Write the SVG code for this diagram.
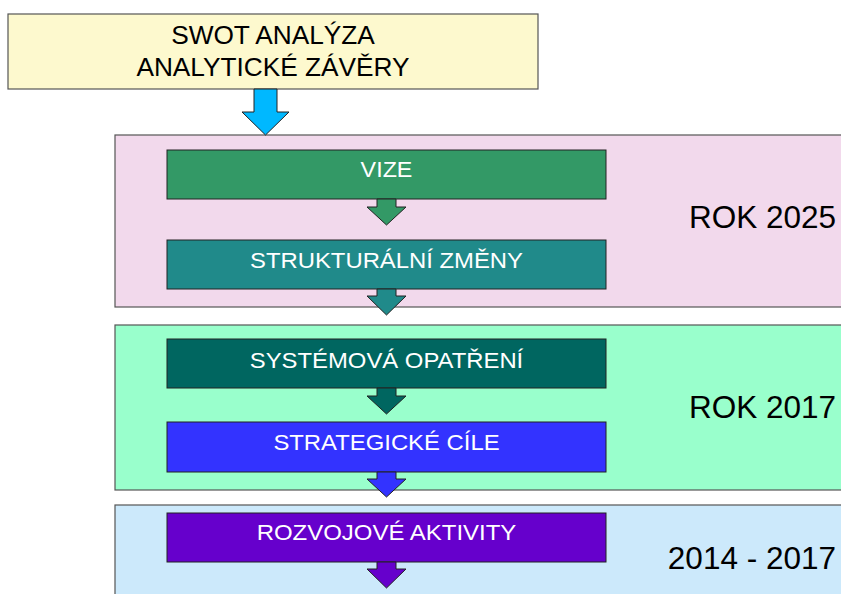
<svg xmlns="http://www.w3.org/2000/svg" width="841" height="594" viewBox="0 0 841 594">
<style>
.frame{stroke:#555;stroke-width:1.2}
.box{stroke:#222;stroke-width:1}
.arr{stroke:#222;stroke-width:1}
.t{font-family:"Liberation Sans",Arial,sans-serif;font-size:22px;fill:#fff;text-anchor:middle}
.big{font-family:"Liberation Sans",Arial,sans-serif;font-size:31.5px;fill:#000;text-anchor:end}
.top{font-family:"Liberation Sans",Arial,sans-serif;font-size:25px;fill:#000;text-anchor:middle}
</style>
<rect width="841" height="594" fill="#fff"/>
<g id="period2025">
<rect class="frame" x="115" y="135" width="730" height="172" fill="#F2D9EC"/>
<text class="big" x="836" y="228">ROK 2025</text>
</g>
<g id="period2017">
<rect class="frame" x="115" y="325" width="730" height="165" fill="#99FFCC"/>
<text class="big" x="836" y="418">ROK 2017</text>
</g>
<g id="period2014">
<rect class="frame" x="115" y="505" width="730" height="100" fill="#CCE9FB"/>
<text class="big" x="836" y="569">2014 - 2017</text>
</g>
<g id="swot">
<rect class="frame" x="8" y="14" width="530" height="75" fill="#FDF9CE"/>
<text class="top" transform="translate(273,44) scale(1.05,1)">SWOT ANALÝZA</text>
<text class="top" transform="translate(273,76) scale(1.05,1)">ANALYTICKÉ ZÁVĚRY</text>
</g>
<g id="vize">
<rect class="box" x="167" y="150" width="439" height="49" fill="#339966"/>
<text class="t" transform="translate(386.5,177) scale(1.06,1)">VIZE</text>
</g>
<g id="strukturalni">
<rect class="box" x="167" y="240" width="439" height="49" fill="#208A8A"/>
<text class="t" transform="translate(386.5,268) scale(1.085,1)">STRUKTURÁLNÍ ZMĚNY</text>
</g>
<g id="systemova">
<rect class="box" x="167" y="339" width="439" height="49" fill="#006660"/>
<text class="t" transform="translate(386.5,368) scale(1.085,1)">SYSTÉMOVÁ OPATŘENÍ</text>
</g>
<g id="strategicke">
<rect class="box" x="167" y="422" width="439" height="50" fill="#3333FF"/>
<text class="t" transform="translate(386.5,450) scale(1.085,1)">STRATEGICKÉ CÍLE</text>
</g>
<g id="rozvojove">
<rect class="box" x="167" y="513" width="439" height="49" fill="#6600CC"/>
<text class="t" transform="translate(386.5,540) scale(1.09,1)">ROZVOJOVÉ AKTIVITY</text>
</g>
<g id="connectors">
<polygon class="arr" fill="#00B8FF" points="254,89 277,89 277,112 289,112 265.5,135 242,112 254,112"/>
<polygon class="arr" fill="#339966" points="377,199 396,199 396,207 406,207 386.5,225 367,207 377,207"/>
<polygon class="arr" fill="#208A8A" points="377,289 396,289 396,296 406,296 386.5,315 367,296 377,296"/>
<polygon class="arr" fill="#006660" points="377,388 396,388 396,396 406,396 386.5,414 367,396 377,396"/>
<polygon class="arr" fill="#3333FF" points="377,472 396,472 396,479 406,479 386.5,497 367,479 377,479"/>
<polygon class="arr" fill="#6600CC" points="377,562 396,562 396,569 406,569 386.5,588 367,569 377,569"/>
</g>
</svg>
